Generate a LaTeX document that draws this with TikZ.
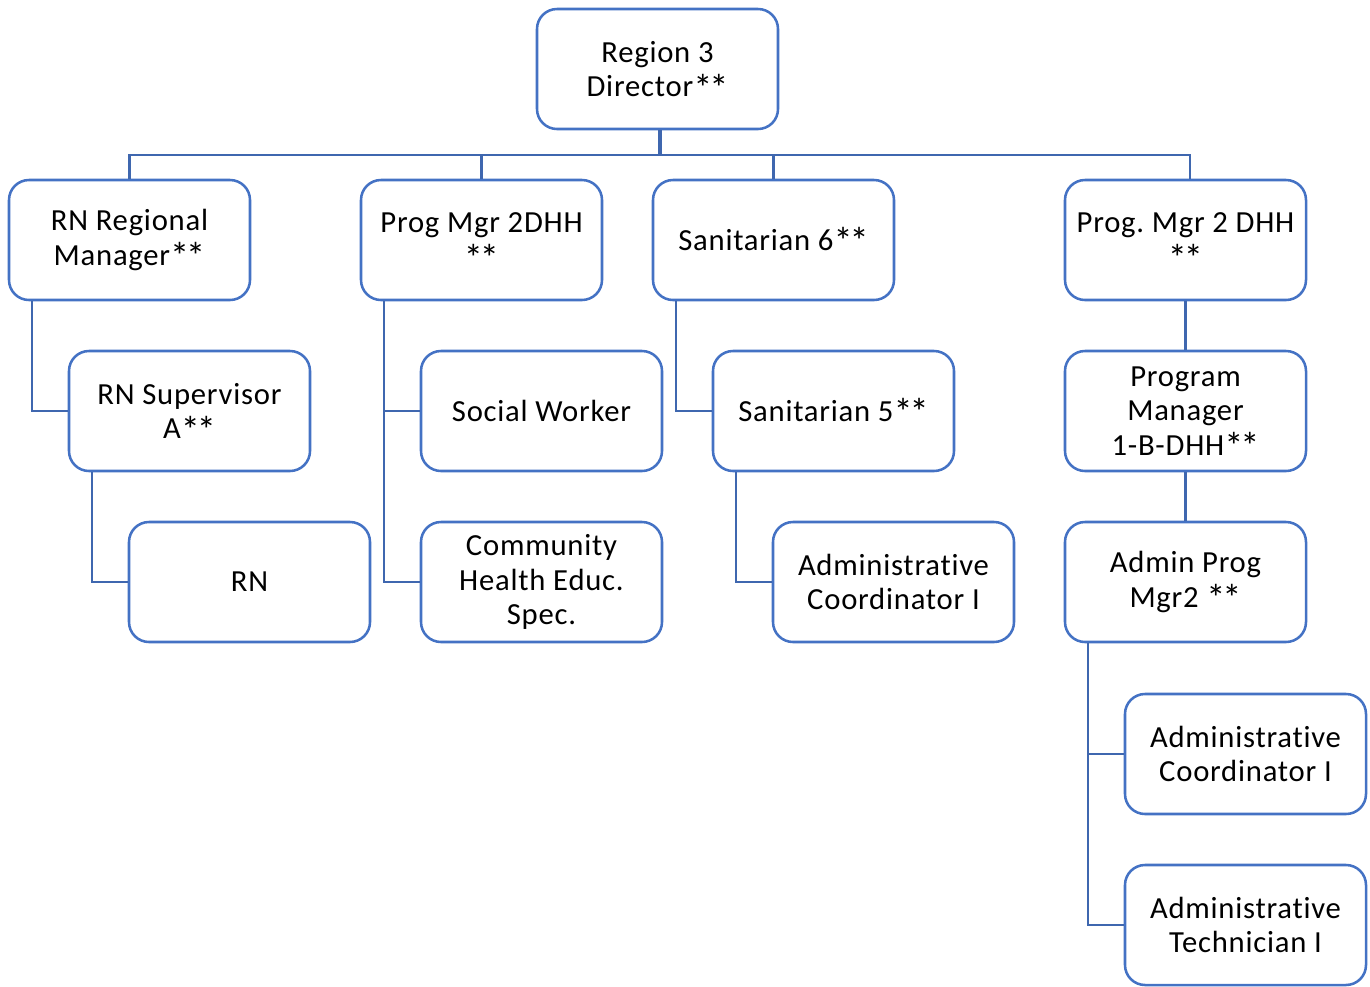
\documentclass[tikz,border=0pt]{standalone}
\usepackage{fontspec}
\setmainfont[LetterSpace=2.5,RawFeature=-liga]{Carlito}
\usetikzlibrary{calc}
\definecolor{boxblue}{HTML}{4472C4}
\definecolor{linkblue}{HTML}{3F67AF}
% a slightly enlarged asterisk pair used in the job titles
\newcommand{\twostars}{\smash{\raisebox{-0.3ex}{\scalebox{1.25}{\addfontfeature{LetterSpace=0}*\kern-0.08em*}}}}
\begin{document}
\frenchspacing
\begin{tikzpicture}[x=0.75pt,y=-0.75pt,
  role/.style={draw=boxblue, line width=1.9pt, rounded corners=15pt, fill=white,
    minimum width=180.75pt, minimum height=90pt, align=center, inner sep=2pt,
    font=\fontsize{23}{26}\selectfont},
  link/.style={draw=linkblue, line width=1.6pt},
  stem/.style={draw=linkblue, line width=3.6pt}]
\useasboundingbox (0,0) rectangle (1370,986);

% top of the chart
\node[role] (dir) at (657.5,69) {Region 3\\Director\twostars};

% first level
\node[role] (rnm) at (129.5,240) {RN Regional\\Manager\twostars};
\node[role] (pm2) at (481.5,240) {Prog Mgr 2DHH\\\twostars};
\node[role] (san6) at (773.5,240) {Sanitarian 6\twostars};
\node[role] (pmd) at (1185.5,240) {Prog. Mgr 2 DHH\\\twostars};

% nursing branch
\node[role] (rns) at (189.5,411) {RN Supervisor\\A\twostars};
\node[role] (rn) at (249.5,582) {RN};

% program manager branch
\node[role] (sw) at (541.5,411) {Social Worker};
\node[role] (che) at (541.5,582) {Community\\Health Educ.\\Spec.};

% sanitarian branch
\node[role] (san5) at (833.5,411) {Sanitarian 5\twostars};
\node[role] (ac1) at (893.5,582) {Administrative\\Coordinator I};

% DHH branch
\node[role] (pm1) at (1185.5,411) {Program\\Manager\\1-B-DHH\twostars};
\node[role] (apm) at (1185.5,582) {Admin Prog\\Mgr2 \twostars};
\node[role] (ac2) at (1245.5,754) {Administrative\\Coordinator I};
\node[role] (at1) at (1245.5,925) {Administrative\\Technician I};

% director stem and distribution bar
\coordinate (bar) at (660,155);
\coordinate (barR) at (1190,155);
\draw[stem] (dir.south -| bar) -- (bar);
\draw[link] (rnm.north) |- (barR) -- (pmd.north -| barR);
\draw[link] (pm2.north) -- (pm2.north |- bar);
\draw[link] (san6.north) -- (san6.north |- bar);

% side-hung children
\draw[link] ($(rnm.south west)+(24,0)$) |- (rns.west);
\draw[link] ($(rns.south west)+(24,0)$) |- (rn.west);
\draw[link] ($(pm2.south west)+(24,0)$) |- (che.west);
\draw[link] ($(pm2.south west)+(24,0)$) |- (sw.west);
\draw[link] ($(san6.south west)+(24,0)$) |- (san5.west);
\draw[link] ($(san5.south west)+(24,0)$) |- (ac1.west);
\draw[link] ($(apm.south west)+(24,0)$) |- (at1.west);
\draw[link] ($(apm.south west)+(24,0)$) |- (ac2.west);

% stacked DHH chain
\draw[link] (pmd.south) -- (pm1.north);
\draw[link] (pm1.south) -- (apm.north);
\end{tikzpicture}
\end{document}
